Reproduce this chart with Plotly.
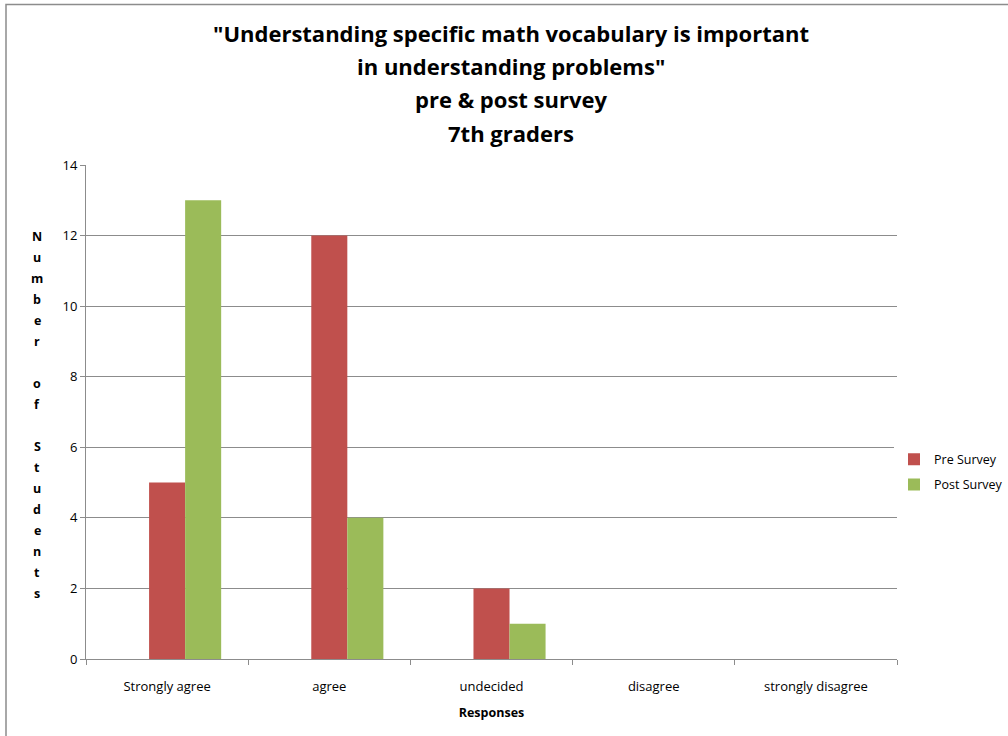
import plotly.graph_objects as go

categories = ["Strongly agree", "agree", "undecided", "disagree", "strongly disagree"]
pre_survey = [5, 12, 2, 0, 0]
post_survey = [13, 4, 1, 0, 0]

title_lines = [
    '"Understanding specific math vocabulary is important',
    'in understanding problems"',
    'pre & post survey',
    '7th graders',
]
y_title = "Number of Students"

FONT = "Open Sans"
GRID = "#8c8c8c"
W, H = 1008, 736
L, R, T, B = 86, 111, 165, 77
PW, PH = W - L - R, H - T - B

# Excel places the pair as if a third, empty series came first
BAR_W = 2 / 9  # category width / (3 series + 1.5 gap)


def px_x(x):
    return (x - L) / PW


def px_y(y):
    return (H - B - y) / PH


fig = go.Figure()
fig.add_trace(go.Bar(x=categories, y=pre_survey, name="Pre Survey", legendgroup="pre",
                     width=BAR_W, offset=-BAR_W / 2,
                     marker_color="#C0504D", marker_line_width=0))
fig.add_trace(go.Bar(x=categories, y=post_survey, name="Post Survey", legendgroup="post",
                     width=BAR_W, offset=BAR_W / 2,
                     marker_color="#9BBB59", marker_line_width=0))

fig.update_layout(
    width=W, height=H,
    margin=dict(l=L, r=R, t=T, b=B, autoexpand=False),
    paper_bgcolor="white", plot_bgcolor="white",
    font=dict(family=FONT, size=13, color="black"),
    barmode="overlay",
    legend=dict(x=px_x(894), xanchor="left", y=px_y(472), yanchor="middle",
                font=dict(size=12.5), traceorder="grouped", tracegroupgap=6,
                itemwidth=30),
    showlegend=True,
)

fig.update_xaxes(
    showline=True, linecolor=GRID, linewidth=1,
    ticks="outside", tickson="boundaries", ticklen=5, tickcolor=GRID,
    tickfont=dict(size=13), ticklabelstandoff=15, showgrid=False, automargin=False,
    title=dict(text="<b>Responses</b>", font=dict(size=12.5), standoff=14),
)
fig.update_yaxes(
    range=[0, 14], dtick=2, showgrid=True, gridcolor=GRID, gridwidth=1,
    showline=True, linecolor=GRID, linewidth=1, automargin=False,
    ticks="outside", ticklen=5, tickcolor=GRID, tickfont=dict(size=13),
    zeroline=False,
)

# title, one annotation per line for Excel-like line spacing
for i, line in enumerate(title_lines):
    fig.add_annotation(text="<b>" + line + "</b>", xref="paper", yref="paper",
                       x=px_x(511), y=px_y(33 + i * 33.2), xanchor="center", yanchor="middle",
                       showarrow=False, font=dict(size=22))

# stacked-letter y axis title
for i, ch in enumerate(y_title):
    if ch == " ":
        continue
    fig.add_annotation(text="<b>" + ch + "</b>", xref="paper", yref="paper",
                       x=px_x(37), y=px_y(236 + i * 21), xanchor="center", yanchor="middle",
                       showarrow=False, font=dict(size=12.5))

# chart border (right/bottom edges lie outside the view)
fig.add_shape(type="rect", xref="paper", yref="paper",
              x0=px_x(6), x1=px_x(1020), y0=px_y(750), y1=px_y(4.5),
              line=dict(color="#8c8c8c", width=1.5), layer="below")

# page margin off so the figure fills the window exactly
fig.write_html("out.html", config={"displayModeBar": False},
               post_script="document.body.style.margin='0';")
